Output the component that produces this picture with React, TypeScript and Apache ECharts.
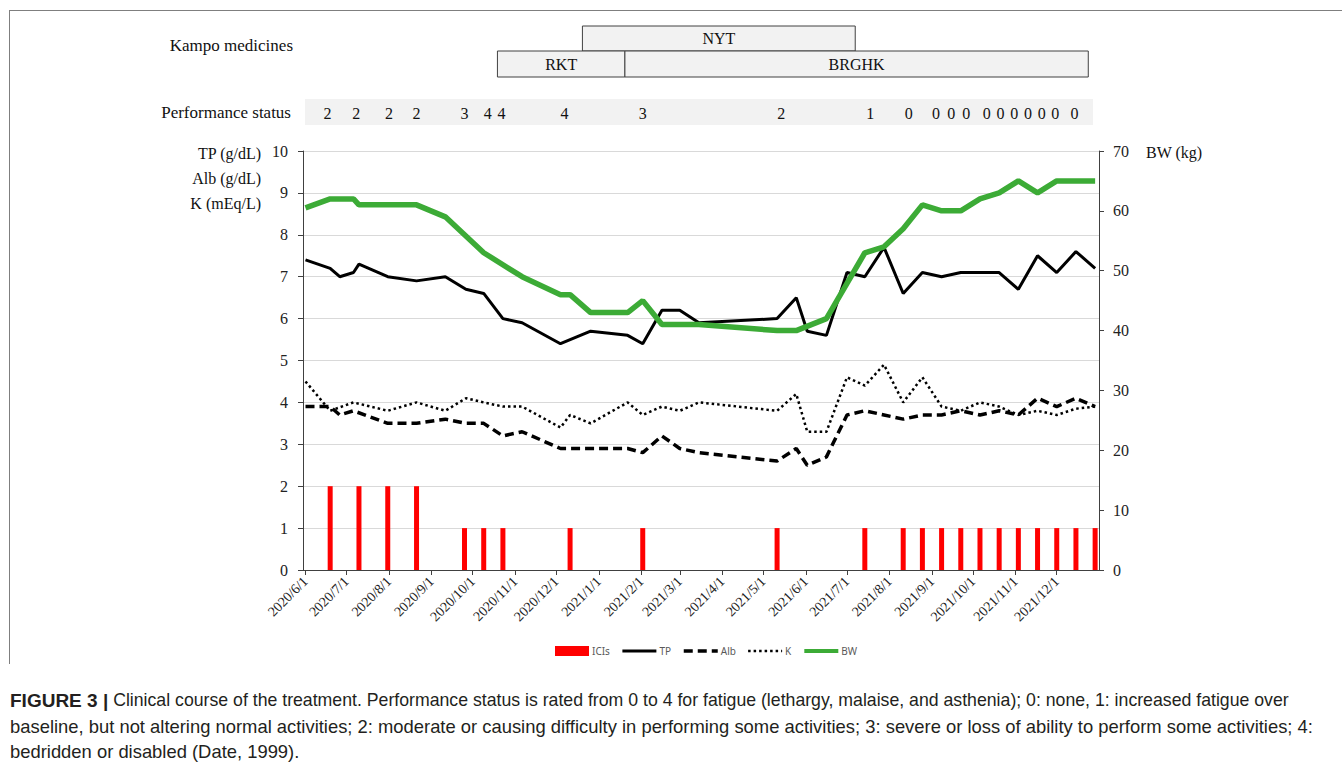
import React, { useEffect, useRef } from "react";
import * as echarts from "echarts";

// ---------------- data ----------------
const labDates = [
  "2020-06-01", "2020-06-19", "2020-06-26", "2020-07-06", "2020-07-10", "2020-07-31",
  "2020-08-21", "2020-09-11", "2020-09-26", "2020-10-09", "2020-10-23", "2020-11-06",
  "2020-12-04", "2020-12-11", "2020-12-26", "2021-01-22", "2021-02-02", "2021-02-16",
  "2021-03-01", "2021-03-15", "2021-05-11", "2021-05-25", "2021-06-02", "2021-06-16",
  "2021-07-01", "2021-07-14", "2021-07-28", "2021-08-11", "2021-08-25", "2021-09-08",
  "2021-09-22", "2021-10-06", "2021-10-20", "2021-11-03", "2021-11-17", "2021-12-01",
  "2021-12-15", "2021-12-29",
];
const tpValues = [
  7.4, 7.2, 7.0, 7.1, 7.3, 7.0, 6.9, 7.0, 6.7, 6.6, 6.0, 5.9, 5.4, null, 5.7, 5.6, 5.4, 6.2,
  6.2, 5.9, 6.0, 6.5, 5.7, 5.6, 7.1, 7.0, 7.7, 6.6, 7.1, 7.0, 7.1, 7.1, 7.1, 6.7, 7.5, 7.1,
  7.6, 7.2,
];
const albValues = [
  3.9, 3.9, 3.7, 3.8, null, 3.5, 3.5, 3.6, 3.5, 3.5, 3.2, 3.3, 2.9, null, 2.9, 2.9, 2.8, 3.2,
  2.9, 2.8, 2.6, 2.9, 2.5, 2.7, 3.7, 3.8, 3.7, 3.6, 3.7, 3.7, 3.8, 3.7, 3.8, 3.7, 4.1, 3.9,
  4.1, 3.9,
];
const kValues = [
  4.5, 3.8, null, 4.0, null, 3.8, 4.0, 3.8, 4.1, 4.0, 3.9, 3.9, 3.4, 3.7, 3.5, 4.0, 3.7, 3.9,
  3.8, 4.0, 3.8, 4.2, 3.3, 3.3, 4.6, 4.4, 4.9, 4.0, 4.6, 3.9, 3.8, 4.0, 3.9, 3.7, 3.8, 3.7,
  3.85, 3.9,
];
const bwValues = [
  60.5, 62, null, 62, 61, 61, 61, 59, null, 53, null, 49, 46, 46, 43, 43, 45, 41, null, 41,
  40, 40, null, 42, null, 53, 54, 57, 61, 60, 60, 62, 63, 65, 63, 65, 65, 65,
];
const iciDates = [
  "2020-06-19", "2020-07-10", "2020-07-31", "2020-08-21", "2020-09-25", "2020-10-09",
  "2020-10-23", "2020-12-11", "2021-02-02", "2021-05-11", "2021-07-14", "2021-08-11",
  "2021-08-25", "2021-09-08", "2021-09-22", "2021-10-06", "2021-10-20", "2021-11-03",
  "2021-11-17", "2021-12-01", "2021-12-15", "2021-12-29",
];
const iciValues = [2, 2, 2, 2, 1, 1, 1, 1, 1, 1, 1, 1, 1, 1, 1, 1, 1, 1, 1, 1, 1, 1];

const psDates = [
  "2020-06-17", "2020-07-08", "2020-08-01", "2020-08-21", "2020-09-25", "2020-10-12",
  "2020-10-22", "2020-12-07", "2021-02-02", "2021-05-14", "2021-07-18", "2021-08-15",
  "2021-09-04", "2021-09-15", "2021-09-26", "2021-10-11", "2021-10-21", "2021-10-31",
  "2021-11-10", "2021-11-20", "2021-11-30", "2021-12-14",
];
const psValues = [2, 2, 2, 2, 3, 4, 4, 4, 3, 2, 1, 0, 0, 0, 0, 0, 0, 0, 0, 0, 0, 0];

const kampoNames = ["NYT", "RKT", "BRGHK"];
const kampoStart = ["2020-12-20", "2020-10-19", "2021-01-20"];
const kampoEnd = ["2021-07-07", "2021-01-20", "2021-12-24"];
const kampoRow = [0, 1, 1];

const axisMin = "2020-06-01";
const axisMax = "2021-12-30";

const captionLine1 =
  "Clinical course of the treatment. Performance status is rated from 0 to 4 for fatigue (lethargy, malaise, and asthenia); 0: none, 1: increased fatigue over";
const captionLine2 =
  "baseline, but not altering normal activities; 2: moderate or causing difficulty in performing some activities; 3: severe or loss of ability to perform some activities; 4:";
const captionLine3 = "bedridden or disabled (Date, 1999).";

// ---------------- helpers ----------------
const DAY = 86400000;
const ts = (s: string) => {
  const [y, m, d] = s.split("-").map(Number);
  return new Date(y, m - 1, d).getTime();
};
const pairs = (dates: string[], vals: (number | null)[]) =>
  dates.map((d, i) => [ts(d), vals[i]]);

const SERIF = "'Liberation Serif', 'Times New Roman', serif";
const SANS = "'Liberation Sans', Arial, sans-serif";

export default function App() {
  const ref = useRef<HTMLDivElement>(null);

  useEffect(() => {
    if (!ref.current) return;
    const chart = echarts.init(ref.current, null, { renderer: "svg" });

    const hideSym = { opacity: 0 };
    const option: any = {
      animation: false,
      backgroundColor: "#ffffff",
      grid: { left: 303, top: 151, width: 796, height: 419 },
      legend: {
        left: 550,
        top: 641,
        itemWidth: 34,
        itemHeight: 10,
        itemGap: 11,
        textStyle: { fontFamily: "'Noto Sans', sans-serif", fontSize: 10, color: "#595959", padding: [0, 0, 0, -2] },
        data: [
          { name: "ICIs", icon: "rect" },
          { name: "TP", itemStyle: hideSym, lineStyle: { width: 3 } },
          { name: "Alb", itemStyle: hideSym, lineStyle: { width: 3.5 } },
          { name: "K", itemStyle: hideSym, lineStyle: { width: 2.5 } },
          { name: "BW", itemStyle: hideSym, lineStyle: { width: 4 } },
        ],
      },
      xAxis: {
        type: "time",
        min: ts(axisMin),
        max: ts(axisMax),
        splitNumber: 19,
        minInterval: 28 * DAY,
        maxInterval: 31 * DAY,
        axisLine: { lineStyle: { color: "#404040", width: 1 } },
        axisTick: { show: true, length: 5, lineStyle: { color: "#404040" } },
        axisLabel: {
          rotate: 45,
          margin: 9,
          fontFamily: SERIF,
          fontSize: 14,
          color: "#222",
          hideOverlap: false,
          formatter: (v: number) => {
            const d = new Date(v);
            return `${d.getFullYear()}/${d.getMonth() + 1}/${d.getDate()}`;
          },
        },
        splitLine: { show: false },
      },
      yAxis: [
        {
          type: "value",
          min: 0,
          max: 10,
          interval: 1,
          axisLine: { show: true, lineStyle: { color: "#404040", width: 1 } },
          axisTick: { show: true, length: 5, lineStyle: { color: "#404040" } },
          axisLabel: { fontFamily: SERIF, fontSize: 16, color: "#222", margin: 15 },
          splitLine: { show: true, lineStyle: { color: "#d9d9d9", width: 1 } },
        },
        {
          type: "value",
          min: 0,
          max: 70,
          interval: 10,
          position: "right",
          axisLine: { show: true, lineStyle: { color: "#404040", width: 1 } },
          axisTick: { show: true, length: 5, lineStyle: { color: "#404040" } },
          axisLabel: { fontFamily: SERIF, fontSize: 16, color: "#222", margin: 14 },
          splitLine: { show: false },
        },
      ],
      series: [
        {
          name: "ICIs",
          type: "bar",
          barWidth: 5,
          yAxisIndex: 0,
          itemStyle: { color: "#ff0000" },
          data: pairs(iciDates, iciValues),
          z: 1,
        },
        {
          name: "TP",
          type: "line",
          yAxisIndex: 0,
          symbol: "none",
          connectNulls: true,
          lineStyle: { color: "#000000", width: 3 },
          itemStyle: { color: "#000000" },
          data: pairs(labDates, tpValues),
          z: 3,
        },
        {
          name: "Alb",
          type: "line",
          yAxisIndex: 0,
          symbol: "none",
          connectNulls: true,
          lineStyle: { color: "#000000", width: 3.5, type: [9, 5] },
          itemStyle: { color: "#000000" },
          data: pairs(labDates, albValues),
          z: 3,
        },
        {
          name: "K",
          type: "line",
          yAxisIndex: 0,
          symbol: "none",
          connectNulls: true,
          lineStyle: { color: "#000000", width: 2.5, type: [2.5, 3] },
          itemStyle: { color: "#000000" },
          data: pairs(labDates, kValues),
          z: 3,
        },
        {
          name: "BW",
          type: "line",
          yAxisIndex: 1,
          symbol: "none",
          connectNulls: true,
          lineStyle: { color: "#3cab36", width: 5.5 },
          itemStyle: { color: "#3cab36" },
          data: pairs(labDates, bwValues),
          z: 4,
        },
      ],
    };
    chart.setOption(option);

    const toX = (d: string) => chart.convertToPixel({ xAxisIndex: 0 }, ts(d)) as number;

    const rowTop = [26, 51];
    const rowH = [25, 26];
    const graphics: any[] = [];

    // figure frame (top and left edges)
    graphics.push({ type: "line", shape: { x1: 10, y1: 10.5, x2: 1342, y2: 10.5 }, style: { stroke: "#7f7f7f", lineWidth: 1 }, silent: true });
    graphics.push({ type: "line", shape: { x1: 9.5, y1: 10, x2: 9.5, y2: 664 }, style: { stroke: "#7f7f7f", lineWidth: 1 }, silent: true });

    // Kampo medicines
    graphics.push({
      type: "text",
      x: 293,
      y: 45,
      style: { text: "Kampo medicines", font: `17px ${SERIF}`, fill: "#111", align: "right", verticalAlign: "middle" },
    });
    kampoNames.forEach((name, i) => {
      const x1 = toX(kampoStart[i]);
      const x2 = toX(kampoEnd[i]);
      const r = kampoRow[i];
      graphics.push({
        type: "rect",
        shape: { x: x1, y: rowTop[r], width: x2 - x1, height: rowH[r] },
        style: { fill: "#f2f2f2", stroke: "#404040", lineWidth: 1 },
        z: 1,
      });
      graphics.push({
        type: "text",
        x: (x1 + x2) / 2,
        y: rowTop[r] + rowH[r] / 2,
        style: { text: name, font: `16px ${SERIF}`, fill: "#111", align: "center", verticalAlign: "middle" },
        z: 2,
      });
    });

    // Performance status
    graphics.push({
      type: "text",
      x: 291,
      y: 112,
      style: { text: "Performance status", font: `17px ${SERIF}`, fill: "#111", align: "right", verticalAlign: "middle" },
    });
    graphics.push({
      type: "rect",
      shape: { x: 305, y: 99, width: 788, height: 26 },
      style: { fill: "#f2f2f2" },
      z: 0,
    });
    psDates.forEach((d, i) => {
      graphics.push({
        type: "text",
        x: toX(d),
        y: 113,
        style: { text: String(psValues[i]), font: `16px ${SERIF}`, fill: "#111", align: "center", verticalAlign: "middle" },
        z: 2,
      });
    });

    // axis titles
    const leftTitles = ["TP (g/dL)", "Alb (g/dL)", "K (mEq/L)"];
    const leftTitleY = [153, 178, 203];
    leftTitles.forEach((t, i) => {
      graphics.push({
        type: "text",
        x: 261,
        y: leftTitleY[i],
        style: { text: t, font: `16px ${SERIF}`, fill: "#111", align: "right", verticalAlign: "middle" },
      });
    });
    graphics.push({
      type: "text",
      x: 1146,
      y: 152,
      style: { text: "BW (kg)", font: `16px ${SERIF}`, fill: "#111", align: "left", verticalAlign: "middle" },
    });

    // caption
    graphics.push({
      type: "text",
      x: 10,
      y: 700,
      style: {
        text: "{b|FIGURE 3 |} {r|" + captionLine1 + "}",
        font: `17.7px ${SANS}`,
        fill: "#231f20",
        verticalAlign: "middle",
        rich: {
          b: { fontWeight: "bold", fontFamily: SANS, fontSize: 19, fill: "#231f20" },
          r: { fontFamily: SANS, fontSize: 17.7, fill: "#231f20" },
        },
      },
    });
    graphics.push({
      type: "text",
      x: 10,
      y: 726,
      style: { text: captionLine2, font: `18.4px ${SANS}`, fill: "#231f20", verticalAlign: "middle" },
    });
    graphics.push({
      type: "text",
      x: 10,
      y: 751,
      style: { text: captionLine3, font: `18.4px ${SANS}`, fill: "#231f20", verticalAlign: "middle" },
    });

    chart.setOption({ graphic: graphics });

    return () => chart.dispose();
  }, []);

  return (
    <div
      ref={ref}
      style={{ position: "absolute", left: 0, top: 0, width: 1342, height: 764, background: "#fff" }}
    />
  );
}
